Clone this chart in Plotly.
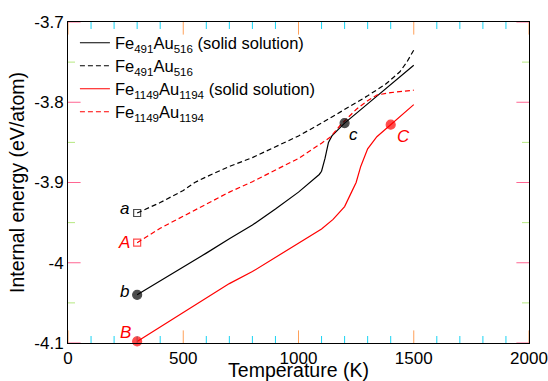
import plotly.graph_objects as go

# Fe491Au516 solid solution (black solid)
T_bs = [300, 400, 500, 600, 700, 800, 900, 1000, 1090, 1100, 1115, 1130, 1145, 1200, 1300, 1400, 1500]
E_bs = [-4.040, -4.023, -4.005, -3.988, -3.970, -3.953, -3.933, -3.912, -3.890, -3.886, -3.870, -3.850, -3.842, -3.826, -3.802, -3.778, -3.754]

# Fe491Au516 (black dashed)
T_bd = [300, 400, 500, 550, 600, 700, 800, 900, 1000, 1100, 1200, 1300, 1380, 1440, 1470, 1500]
E_bd = [-3.938, -3.925, -3.910, -3.900, -3.893, -3.880, -3.869, -3.855, -3.842, -3.826, -3.809, -3.792, -3.777, -3.762, -3.750, -3.735]

# Fe1149Au1194 solid solution (red solid)
T_rs = [300, 400, 500, 600, 700, 800, 900, 1000, 1100, 1150, 1200, 1230, 1250, 1270, 1300, 1340, 1400, 1450, 1500]
E_rs = [-4.098, -4.080, -4.062, -4.044, -4.026, -4.011, -3.993, -3.976, -3.958, -3.946, -3.930, -3.912, -3.900, -3.880, -3.858, -3.843, -3.828, -3.816, -3.803]

# Fe1149Au1194 (red dashed)
T_rd = [300, 400, 500, 600, 700, 800, 900, 1000, 1100, 1140, 1180, 1250, 1300, 1340, 1400, 1500]
E_rd = [-3.975, -3.957, -3.942, -3.927, -3.912, -3.899, -3.885, -3.870, -3.851, -3.843, -3.829, -3.809, -3.798, -3.791, -3.788, -3.785]

series_names = ["Fe<sub>491</sub>Au<sub>516</sub> (solid solution)",
                "Fe<sub>491</sub>Au<sub>516</sub>",
                "Fe<sub>1149</sub>Au<sub>1194</sub> (solid solution)",
                "Fe<sub>1149</sub>Au<sub>1194</sub>"]

# Labelled states
pt_labels = ["a", "A", "b", "B", "c", "C"]
pt_T = [300, 300, 300, 300, 1200, 1400]
pt_E = [-3.938, -3.975, -4.040, -4.098, -3.826, -3.828]
pt_color = ["black", "red", "black", "red", "black", "red"]
pt_symbol = ["square-open", "square-open", "circle", "circle", "circle", "circle"]
pt_size = [7, 7, 9, 9, 9, 9]
pt_dx = [-13, -13, -13, -12, 9, 13]
pt_dy = [4, 0, 3, 9, -11, -12]

# axis ticks
x_ticks = [0, 500, 1000, 1500, 2000]
x_minor = [100, 200, 300, 400, 600, 700, 800, 900, 1100, 1200, 1300, 1400, 1600, 1700, 1800, 1900]
y_ticks = [-4.1, -4.0, -3.9, -3.8, -3.7]
y_ticktext = ["-4.1", "-4", "-3.9", "-3.8", "-3.7"]
y_minor = [-4.05, -3.95, -3.85, -3.75]

FONT = "Liberation Sans, Arial, sans-serif"
X_RANGE = [x_ticks[0], x_ticks[-1]]
Y_RANGE = [y_ticks[0], y_ticks[-1]]
MAJOR_LEN = 9
MINOR_LEN = 5

fig = go.Figure()
series = [(T_bs, E_bs, "black", "solid"), (T_bd, E_bd, "black", "5px,3px"),
          (T_rs, E_rs, "red", "solid"), (T_rd, E_rd, "red", "5px,3px")]
legend_ids = ["legend", "legend2", "legend3", "legend4"]
for (tx, ey, col, dash), nm, lg in zip(series, series_names, legend_ids):
    fig.add_trace(go.Scatter(x=tx, y=ey, mode="lines", line=dict(color=col, width=1.2, dash=dash),
                             name=nm, legend=lg))

# inward tick marks: line markers centred on the frame, clipped to the plot area so only
# the inner half remains visible
for vals, ln in [(x_ticks, MAJOR_LEN), (x_minor, MINOR_LEN)]:
    fig.add_trace(go.Scatter(x=vals + vals, y=[Y_RANGE[0]] * len(vals) + [Y_RANGE[1]] * len(vals),
                             mode="markers", cliponaxis=True, showlegend=False, hoverinfo="skip",
                             marker=dict(symbol="line-ns-open", size=2 * ln,
                                         line=dict(color="black", width=1))))
for vals, ln in [(y_ticks, MAJOR_LEN), (y_minor, MINOR_LEN)]:
    fig.add_trace(go.Scatter(x=[X_RANGE[0]] * len(vals) + [X_RANGE[1]] * len(vals), y=vals + vals,
                             mode="markers", cliponaxis=True, showlegend=False, hoverinfo="skip",
                             marker=dict(symbol="line-ew-open", size=2 * ln,
                                         line=dict(color="black", width=1))))

fig.add_trace(go.Scatter(x=pt_T, y=pt_E, mode="markers", showlegend=False, cliponaxis=False,
                         marker=dict(color=pt_color, symbol=pt_symbol, size=pt_size,
                                     line=dict(color=pt_color, width=1.2))))

for lab, t, e, c, dx, dy in zip(pt_labels, pt_T, pt_E, pt_color, pt_dx, pt_dy):
    fig.add_annotation(x=t, y=e, text="<i>%s</i>" % lab, showarrow=False,
                       xshift=dx, yshift=dy, font=dict(family=FONT, size=17, color=c))

fig.update_xaxes(range=X_RANGE, tickmode="array", tickvals=x_ticks, ticktext=[str(v) for v in x_ticks],
                 ticks="", showline=True, linecolor="black", linewidth=1, mirror=True,
                 showgrid=False, zeroline=False, automargin=False,
                 tickfont=dict(family=FONT, size=17, color="black"),
                 title=dict(text="Temperature (K)", font=dict(family=FONT, size=19.5, color="black"), standoff=18))
fig.update_yaxes(range=Y_RANGE, tickmode="array", tickvals=y_ticks, ticktext=y_ticktext,
                 ticks="", showline=True, linecolor="black", linewidth=1, mirror=True,
                 showgrid=False, zeroline=False, automargin=False,
                 tickfont=dict(family=FONT, size=17, color="black"),
                 title=dict(text="Internal energy (eV/atom)", font=dict(family=FONT, size=19.5, color="black"), standoff=4))

# legend rows (pixel centres in the 321-px tall plot area starting at y=22)
legend_rows_px = [43, 66, 89, 112]
legends = {}
for lg, py in zip(legend_ids, legend_rows_px):
    legends[lg] = dict(x=0.015, y=1 - (py - 22) / 321.0, xanchor="left", yanchor="middle",
                       bgcolor="rgba(0,0,0,0)", font=dict(family=FONT, size=16.5, color="black"),
                       itemwidth=30)

fig.update_layout(width=548, height=381, margin=dict(l=68, r=19, t=22, b=38),
                  plot_bgcolor="rgba(0,0,0,0)", paper_bgcolor="white",
                  font=dict(family=FONT, color="black"), **legends)

fig.write_html("out.html")
